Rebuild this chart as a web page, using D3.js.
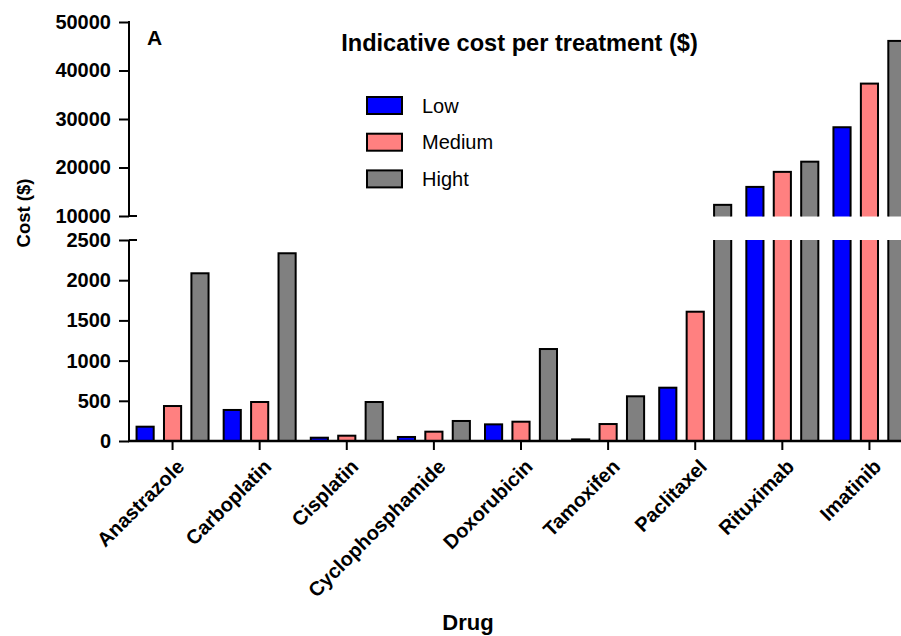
<!DOCTYPE html>
<html>
<head>
<meta charset="utf-8">
<script src="https://cdn.jsdelivr.net/npm/d3@7"></script>
<style>
  html, body { margin: 0; padding: 0; background: #fff; }
  svg { display: block; font-family: "Liberation Sans", Arial, Helvetica, sans-serif; }
</style>
</head>
<body>
<svg id="chart" width="901" height="636"></svg>
<script>
// ---------- data ----------
const drugs = ["Anastrazole", "Carboplatin", "Cisplatin", "Cyclophosphamide", "Doxorubicin", "Tamoxifen", "Paclitaxel", "Rituximab", "Imatinib"];
const seriesNames = ["Low", "Medium", "Hight"];
const lowCost    = [178, 386, 41, 50, 207, 20, 663, 16000, 28300];
const mediumCost = [435, 485, 66, 116, 240, 211, 1608, 19100, 37300];
const highCost   = [2086, 2335, 485, 249, 1144, 556, 12300, 21200, 46100];
const upperTicks = [10000, 20000, 30000, 40000, 50000];
const lowerTicks = [0, 500, 1000, 1500, 2000, 2500];
const seriesColors = ["#0000FF", "#FF8080", "#808080"];

const chartTitle = "Indicative cost per treatment ($)";
const panelLabel = "A";
const xTitle = "Drug";
const yTitle = "Cost ($)";

// ---------- layout ----------
const svg = d3.select("#chart");
const axisX = 129;
const upperTop = 22, upperBottom = 216;
const lowerTop = 240, lowerBottom = 441;

const x = d3.scaleBand().domain(drugs).range([axisX, 913]).padding(0);
const xs = d3.scaleBand().domain(seriesNames).range([-36, 36]).paddingInner(0.375).paddingOuter(0);
const yU = d3.scaleLinear().domain([10000, 50000]).range([upperBottom, upperTop]);
const yL = d3.scaleLinear().domain([0, 2500]).range([lowerBottom, lowerTop]);

const seriesData = [lowCost, mediumCost, highCost];
const rows = [];
seriesData.forEach((arr, si) => {
  arr.forEach((v, di) => rows.push({ drug: drugs[di], s: seriesNames[si], si, v }));
});

// clip paths
const defs = svg.append("defs");
defs.append("clipPath").attr("id", "clipUpper")
  .append("rect").attr("x", 0).attr("y", 0).attr("width", 901).attr("height", upperBottom + 0.5);
defs.append("clipPath").attr("id", "clipLower")
  .append("rect").attr("x", 0).attr("y", lowerTop).attr("width", 901).attr("height", 636 - lowerTop);

const barW = xs.bandwidth();
function bx(d) { return x(d.drug) + x.bandwidth() / 2 + xs(d.s); }

// lower segment bars
svg.append("g").attr("clip-path", "url(#clipLower)")
  .selectAll("rect").data(rows).join("rect")
  .attr("x", bx)
  .attr("width", barW)
  .attr("y", d => d.v > 2500 ? lowerTop - 10 : yL(d.v))
  .attr("height", d => lowerBottom - (d.v > 2500 ? lowerTop - 10 : yL(d.v)))
  .attr("fill", d => seriesColors[d.si])
  .attr("stroke", "#000").attr("stroke-width", 2);

// upper segment bars
svg.append("g").attr("clip-path", "url(#clipUpper)")
  .selectAll("rect").data(rows.filter(d => d.v > 10000)).join("rect")
  .attr("x", bx)
  .attr("width", barW)
  .attr("y", d => yU(d.v))
  .attr("height", d => upperBottom + 10 - yU(d.v))
  .attr("fill", d => seriesColors[d.si])
  .attr("stroke", "#000").attr("stroke-width", 2);

// ---------- axes ----------
const fmt = d3.format("d");
const gU = svg.append("g").attr("transform", `translate(${axisX},0)`)
  .call(d3.axisLeft(yU).tickValues(upperTicks).tickFormat(fmt).tickSize(10).tickPadding(8));
const gL = svg.append("g").attr("transform", `translate(${axisX},0)`)
  .call(d3.axisLeft(yL).tickValues(lowerTicks).tickFormat(fmt).tickSize(10).tickPadding(8));
[gU, gL].forEach(g => {
  g.select(".domain").remove();
  g.selectAll(".tick line").attr("stroke", "#000").attr("stroke-width", 2);
  g.selectAll(".tick text").attr("fill", "#000")
    .style("font-size", "20px").style("font-weight", "bold");
});
// axis lines
svg.append("line").attr("x1", axisX).attr("x2", axisX).attr("y1", upperTop - 1).attr("y2", upperBottom)
  .attr("stroke", "#000").attr("stroke-width", 2);
svg.append("line").attr("x1", axisX).attr("x2", axisX).attr("y1", lowerTop).attr("y2", lowerBottom + 1)
  .attr("stroke", "#000").attr("stroke-width", 2);
// break marks (ticks crossing the axis)
[yU(10000), yL(2500)].forEach(yy => {
  svg.append("line").attr("x1", axisX).attr("x2", axisX + 8).attr("y1", yy).attr("y2", yy)
    .attr("stroke", "#000").attr("stroke-width", 2);
});

// x axis
const gX = svg.append("g").attr("transform", `translate(0,${lowerBottom})`)
  .call(d3.axisBottom(x).tickSize(9).tickPadding(4));
gX.select(".domain").attr("d", `M${axisX - 1},0H913`).attr("stroke", "#000").attr("stroke-width", 2.5);
gX.selectAll(".tick line").attr("stroke", "#000").attr("stroke-width", 2);
gX.selectAll(".tick text")
  .attr("fill", "#000")
  .style("font-size", "20px").style("font-weight", "bold")
  .attr("text-anchor", "end")
  .attr("transform", "translate(8,22) rotate(-45)")
  .attr("x", 0).attr("y", 0).attr("dy", "0.35em");

// ---------- titles ----------
svg.append("text").attr("x", 519.5).attr("y", 51).attr("text-anchor", "middle")
  .style("font-size", "23.6px").style("font-weight", "bold").text(chartTitle);
svg.append("text").attr("x", 147).attr("y", 44.5)
  .style("font-size", "21px").style("font-weight", "bold").text(panelLabel);
svg.append("text").attr("x", 468).attr("y", 630).attr("text-anchor", "middle")
  .style("font-size", "22px").style("font-weight", "bold").text(xTitle);
svg.append("text").attr("transform", "translate(24,213) rotate(-90)").attr("text-anchor", "middle")
  .attr("dy", "0.35em")
  .style("font-size", "18.5px").style("font-weight", "bold").text(yTitle);

// ---------- legend ----------
const leg = svg.append("g").selectAll("g").data(seriesNames).join("g")
  .attr("transform", (d, i) => `translate(367,${97 + i * 36.7})`);
leg.append("rect").attr("width", 35).attr("height", 17)
  .attr("fill", (d, i) => seriesColors[i]).attr("stroke", "#000").attr("stroke-width", 2);
leg.append("text").attr("x", 55).attr("y", 8.5).attr("dy", "0.35em")
  .style("font-size", "20px").text(d => d);
</script>
</body>
</html>
